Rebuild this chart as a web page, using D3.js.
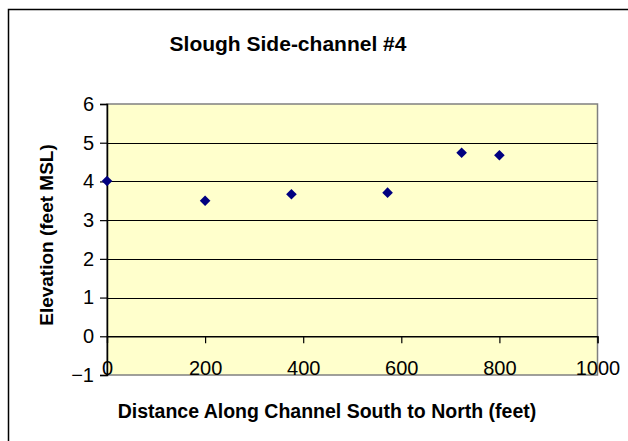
<!DOCTYPE html>
<html><head><meta charset="utf-8">
<script src="https://cdn.jsdelivr.net/npm/d3@7"></script>
<style>body{margin:0;background:#fff}svg{display:block}text{font-family:Arial,"Liberation Sans",sans-serif}</style>
</head><body>
<svg id="c" width="628" height="441"></svg>
<script>
const distances = [0, 200, 376, 572, 723, 800];
const elevations = [4.01, 3.50, 3.67, 3.71, 4.74, 4.675];
const xTicks = [0, 200, 400, 600, 800, 1000];
const yTicks = [-1, 0, 1, 2, 3, 4, 5, 6];
const title = "Slough Side-channel #4";
const xTitle = "Distance Along Channel South to North (feet)";
const yTitle = "Elevation (feet MSL)";

const svg = d3.select("#c");
const L = 107, R = 597.5, T = 104, B = 375;
const x = d3.scaleLinear().domain([0, 1000]).range([L, R]);
const y = d3.scaleLinear().domain([-1, 6]).range([B, T]);
const FONT = "Arial, 'Liberation Sans', sans-serif";

// outer frame
svg.append("rect").attr("x", 8.5).attr("y", 9.5).attr("width", 640).attr("height", 460)
  .attr("fill", "#fff").attr("stroke", "#000").attr("stroke-width", 1.5);

// plot area
svg.append("rect").attr("x", L).attr("y", T).attr("width", R - L).attr("height", B - T)
  .attr("fill", "#FFFFCC").attr("stroke", "#808080").attr("stroke-width", 1.5);

// gridlines
svg.append("g").selectAll("line").data(yTicks.filter(d => d > -1 && d < 6)).join("line")
  .attr("x1", L).attr("x2", R).attr("y1", d => Math.round(y(d)) + 0.5).attr("y2", d => Math.round(y(d)) + 0.5)
  .attr("stroke", "#000").attr("stroke-width", 1);

// y axis
const yAxis = d3.axisLeft(y).tickValues(yTicks).tickSize(7).tickPadding(6).tickFormat(d3.format("d"));
const gy = svg.append("g").attr("transform", `translate(${L},0)`).call(yAxis);
gy.select(".domain").attr("stroke", "#000").attr("stroke-width", 1.5);
gy.selectAll(".tick line").attr("stroke", "#000").attr("stroke-width", 1.2);
gy.selectAll("text").attr("font-size", 20).attr("fill", "#000").style("font-family", FONT);

// x axis at y=0
const xAxis = d3.axisBottom(x).tickValues(xTicks).tickSize(7).tickPadding(18).tickFormat(d3.format("d"));
const gx = svg.append("g").attr("transform", `translate(0,${y(0)})`).call(xAxis);
gx.select(".domain").attr("stroke", "#000").attr("stroke-width", 1.2);
gx.selectAll(".tick line").attr("stroke", "#000").attr("stroke-width", 1.2);
gx.selectAll("text").attr("font-size", 20).attr("fill", "#000").style("font-family", FONT);

// points
const diamond = d3.symbol().type(d3.symbolDiamond2).size(72);
svg.append("g").selectAll("path").data(distances.map((d, i) => [d, elevations[i]])).join("path")
  .attr("d", diamond).attr("transform", d => `translate(${x(d[0])},${y(d[1])})`)
  .attr("fill", "#000080");

// titles
svg.append("text").attr("x", 288).attr("y", 51).attr("text-anchor", "middle")
  .attr("font-size", 21).attr("font-weight", "bold").text(title);
svg.append("text").attr("x", 327).attr("y", 418).attr("text-anchor", "middle")
  .attr("font-size", 19.5).attr("font-weight", "bold").text(xTitle);
svg.append("text").attr("transform", `translate(53,235) rotate(-90)`).attr("text-anchor", "middle")
  .attr("font-size", 19).attr("font-weight", "bold").text(yTitle);
</script>
</body></html>
